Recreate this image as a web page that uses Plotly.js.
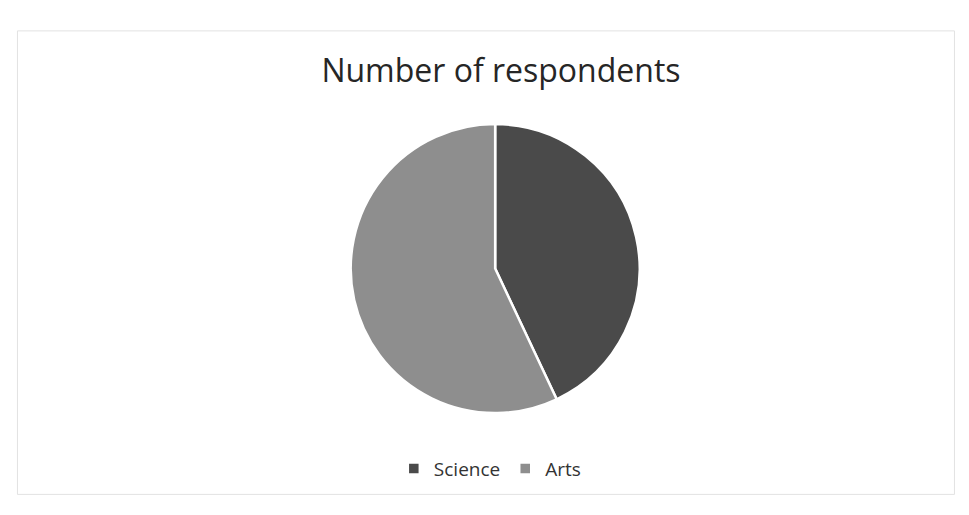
<!DOCTYPE html>
<html><head><meta charset="utf-8">
<script src="https://cdn.plot.ly/plotly-3.0.1.min.js"></script>
<style>html,body{margin:0;padding:0;background:#fff}#c{width:969px;height:515px}</style>
</head><body><div id="c"></div>
<script>
const categories = ["Science", "Arts"];
const respondents = [43, 57];
const sliceColors = ["#4a4a4a", "#8e8e8e"];

const data = [{
  type: "pie",
  labels: categories,
  values: respondents,
  sort: false,
  direction: "clockwise",
  rotation: 0,
  textinfo: "none",
  hoverinfo: "label+value+percent",
  marker: {colors: sliceColors, line: {color: "#ffffff", width: 2.5}},
  domain: {x: [0.2, 0.822], y: [0.198, 0.759]}
}];

const layout = {
  width: 969, height: 515,
  margin: {l: 0, r: 0, t: 0, b: 0},
  paper_bgcolor: "#ffffff",
  font: {family: "Liberation Sans, Arial, sans-serif", color: "#333333"},
  title: {text: "Number of respondents", x: 0.517, xanchor: "center", y: 0.862, yanchor: "middle",
          font: {size: 32, color: "#262626", family: "Open Sans, sans-serif"}},
  showlegend: true,
  legend: {orientation: "h", x: 0.506, xanchor: "center", y: 0.09, yanchor: "middle",
           font: {size: 19, color: "#333333", family: "Open Sans, sans-serif"}, itemwidth: 30, traceorder: "normal"},
  shapes: [{type: "rect", xref: "paper", yref: "paper", x0: 0.018, x1: 0.985, y0: 0.04, y1: 0.94,
            line: {color: "#e2e2e2", width: 1}}]
};
Plotly.newPlot("c", data, layout, {displayModeBar: false, staticPlot: true});
</script></body></html>
